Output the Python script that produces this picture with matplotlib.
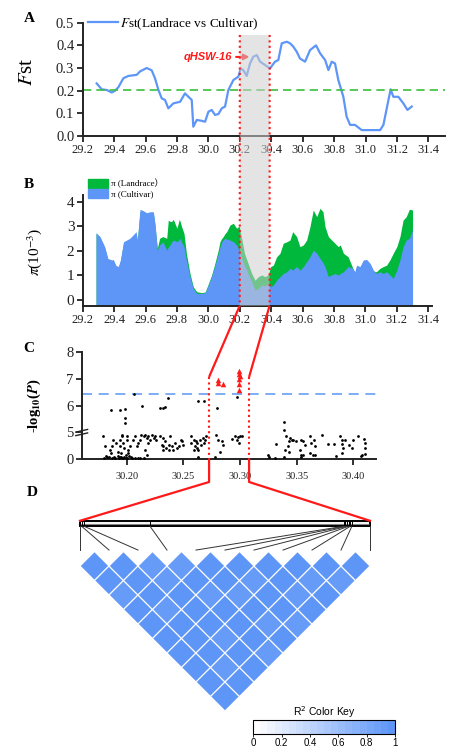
import numpy as np
import matplotlib
matplotlib.use("Agg")
import matplotlib.pyplot as plt
from matplotlib.patches import Polygon, Rectangle, Patch
from matplotlib.colors import LinearSegmentedColormap, Normalize
from matplotlib.cm import ScalarMappable

plt.rcParams['font.family'] = ['Liberation Serif', 'DejaVu Serif']
plt.rcParams['mathtext.fontset'] = 'stix'

# ---- A: Fst along the chromosome (Mb) ----
fst_pos = [29.289, 29.321, 29.353, 29.385, 29.406, 29.427, 29.459, 29.491, 29.544, 29.565,
           29.607, 29.639, 29.660, 29.682, 29.703, 29.724, 29.745, 29.777, 29.820, 29.851,
           29.873, 29.894, 29.904, 29.926, 29.957, 29.979, 30.000, 30.021, 30.042, 30.064,
           30.085, 30.106, 30.127, 30.159, 30.191, 30.206, 30.223, 30.244, 30.265, 30.286,
           30.308, 30.329, 30.361, 30.392, 30.424, 30.445, 30.467, 30.499, 30.520, 30.541,
           30.562, 30.583, 30.615, 30.647, 30.685, 30.711, 30.743, 30.764, 30.785, 30.806,
           30.827, 30.859, 30.880, 30.902, 30.933, 30.976, 31.029, 31.093, 31.114, 31.146,
           31.160, 31.177, 31.209, 31.241, 31.267, 31.294]
fst_val = [0.232, 0.206, 0.203, 0.192, 0.200, 0.215, 0.255, 0.265, 0.270, 0.285,
           0.300, 0.290, 0.255, 0.203, 0.166, 0.159, 0.122, 0.144, 0.151, 0.188,
           0.173, 0.159, 0.041, 0.071, 0.067, 0.063, 0.107, 0.115, 0.093, 0.097,
           0.122, 0.130, 0.203, 0.247, 0.262, 0.298, 0.290, 0.265, 0.320, 0.350,
           0.357, 0.328, 0.313, 0.298, 0.328, 0.335, 0.409, 0.416, 0.409, 0.394,
           0.372, 0.342, 0.328, 0.379, 0.400, 0.365, 0.335, 0.291, 0.328, 0.320,
           0.247, 0.173, 0.085, 0.049, 0.049, 0.026, 0.026, 0.026, 0.049, 0.159,
           0.206, 0.173, 0.173, 0.144, 0.115, 0.130]
fst_cut = 0.205
region = [30.20, 30.39]          # selected window (shaded)
xticks_ab = [29.2, 29.4, 29.6, 29.8, 30.0, 30.2, 30.4, 30.6, 30.8, 31.0, 31.2, 31.4]

# ---- B: nucleotide diversity (10^-3) ----
pi_pos = [29.285, 29.31, 29.34, 29.36, 29.385, 29.395, 29.41, 29.427, 29.44, 29.46,
          29.48, 29.50, 29.52, 29.54, 29.548, 29.565, 29.586, 29.607, 29.63, 29.65,
          29.66, 29.675, 29.69, 29.71, 29.735, 29.745, 29.756, 29.766, 29.777, 29.80,
          29.815, 29.82, 29.83, 29.845, 29.86, 29.883, 29.904, 29.926, 29.957, 29.98,
          30.0, 30.02, 30.04, 30.064, 30.074, 30.085, 30.095, 30.106, 30.117, 30.138,
          30.159, 30.18, 30.197, 30.21, 30.23, 30.244, 30.253, 30.276, 30.297, 30.318,
          30.34, 30.36, 30.38, 30.397, 30.414, 30.435, 30.456, 30.477, 30.50, 30.52,
          30.537, 30.562, 30.583, 30.605, 30.626, 30.647, 30.668, 30.69, 30.711, 30.73,
          30.743, 30.764, 30.785, 30.806, 30.827, 30.84, 30.86, 30.89, 30.92, 30.933,
          30.944, 30.965, 30.987, 31.008, 31.03, 31.05, 31.07, 31.093, 31.114, 31.135,
          31.156, 31.177, 31.20, 31.22, 31.24, 31.26, 31.28, 31.30]
pi_cultivar = [2.74, 2.58, 2.17, 1.69, 1.63, 1.65, 1.42, 1.36, 1.63, 2.37,
               2.44, 2.51, 2.64, 2.78, 2.44, 3.69, 3.63, 3.55, 3.59, 3.59,
               3.12, 2.03, 2.24, 2.37, 2.03, 2.15, 2.24, 2.35, 2.44, 2.37,
               2.45, 2.51, 2.35, 2.17, 1.63, 0.95, 0.47, 0.27, 0.27, 0.30,
               0.61, 0.95, 1.36, 1.90, 2.15, 2.37, 2.45, 2.51, 2.48, 2.44,
               2.37, 2.24, 2.00, 1.75, 1.40, 1.22, 1.05, 0.75, 0.41, 0.47,
               0.61, 0.57, 0.68, 0.54, 0.61, 0.81, 0.95, 1.08, 1.15, 1.29,
               1.22, 1.36, 1.22, 1.36, 1.56, 1.76, 2.03, 1.90, 1.69, 1.52,
               1.35, 0.95, 1.02, 1.08, 1.02, 1.08, 1.15, 1.36, 1.29, 1.15,
               1.42, 1.36, 1.63, 1.65, 1.49, 1.22, 1.08, 1.15, 1.08, 1.15,
               1.02, 0.88, 1.22, 1.63, 2.17, 2.44, 2.51, 2.85]
pi_landrace = [2.70, 2.55, 2.12, 1.65, 1.60, 1.60, 1.38, 1.32, 1.58, 2.32,
               2.40, 2.46, 2.60, 2.72, 2.40, 3.60, 3.55, 3.50, 3.52, 3.50,
               3.05, 2.10, 2.51, 2.58, 2.51, 3.25, 3.20, 3.19, 3.28, 2.92,
               3.28, 3.20, 2.98, 2.71, 1.90, 1.08, 0.54, 0.34, 0.30, 0.33,
               0.66, 1.00, 1.45, 2.05, 2.37, 2.50, 2.58, 2.70, 2.78, 3.05,
               3.12, 2.92, 3.01, 2.58, 1.90, 1.65, 1.49, 1.08, 0.81, 0.95,
               1.02, 0.95, 1.02, 1.36, 1.42, 1.76, 1.90, 2.31, 2.37, 2.44,
               2.78, 2.58, 2.17, 2.24, 2.44, 2.98, 3.66, 3.39, 3.73, 3.59,
               2.98, 2.58, 2.44, 2.31, 2.17, 2.24, 1.90, 1.76, 1.29, 1.10,
               1.38, 1.30, 1.58, 1.60, 1.45, 1.18, 1.15, 1.29, 1.36, 1.42,
               1.63, 1.90, 2.17, 2.58, 3.25, 3.39, 3.69, 3.66]

# ---- C: association scan, -log10(P) ----
snp_pos = [30.179, 30.181, 30.182, 30.183, 30.185, 30.186, 30.187, 30.187, 30.189, 30.188,
           30.191, 30.192, 30.193, 30.194, 30.194, 30.195, 30.196, 30.196, 30.197, 30.198,
           30.199, 30.199, 30.200, 30.200, 30.201, 30.201, 30.197, 30.196, 30.194, 30.203,
           30.204, 30.206, 30.207, 30.209, 30.210, 30.212, 30.213, 30.210, 30.207, 30.215,
           30.216, 30.218, 30.219, 30.221, 30.222, 30.224, 30.225, 30.216, 30.219, 30.215,
           30.218, 30.226, 30.229, 30.231, 30.232, 30.234, 30.235, 30.237, 30.238, 30.232,
           30.240, 30.241, 30.243, 30.232, 30.237, 30.244, 30.246, 30.248, 30.249, 30.250,
           30.257, 30.257, 30.259, 30.260, 30.261, 30.262, 30.263, 30.263, 30.265, 30.266,
           30.267, 30.268, 30.269, 30.270, 30.262, 30.259, 30.279, 30.281, 30.282, 30.284,
           30.285, 30.278, 30.293, 30.296, 30.298, 30.300, 30.302, 30.299, 30.297, 30.325,
           30.326, 30.331, 30.332, 30.340, 30.339, 30.341, 30.343, 30.344, 30.346, 30.347,
           30.349, 30.342, 30.343, 30.354, 30.356, 30.353, 30.354, 30.354, 30.356, 30.357,
           30.362, 30.363, 30.366, 30.365, 30.362, 30.364, 30.366, 30.372, 30.378, 30.383,
           30.388, 30.390, 30.390, 30.391, 30.393, 30.396, 30.399, 30.400, 30.404, 30.390,
           30.385, 30.409, 30.410, 30.410, 30.408, 30.410, 30.407,
           30.190, 30.192, 30.195, 30.198, 30.200, 30.202, 30.205, 30.180, 30.184, 30.212,
           30.2067, 30.2367, 30.2138, 30.1861, 30.1941, 30.1985, 30.1985, 30.1985, 30.2297, 30.2317,
           30.2335, 30.2632, 30.2685, 30.2794, 30.2971, 30.339, 30.339]
snp_logp = [4.25, 2.50, 0.69, 0.38, 1.75, 1.13, 2.50, 0.19, 0.50, 3.63,
            3.00, 1.44, 0.19, 3.63, 2.38, 1.13, 4.56, 4.25, 3.00, 2.06,
            0.81, 0.19, 4.25, 3.63, 1.75, 1.13, 0.19, 0.31, 0.50, 2.38,
            0.50, 3.63, 4.38, 2.38, 3.00, 3.63, 4.56, 0.19, 0.19, 4.25,
            4.56, 3.94, 4.25, 3.63, 4.56, 3.94, 4.25, 1.75, 3.00, 0.19,
            0.81, 3.63, 4.25, 2.69, 2.38, 3.31, 2.06, 2.69, 4.25, 3.94,
            2.38, 1.75, 3.00, 1.75, 1.75, 2.06, 2.38, 3.63, 3.31, 2.69,
            4.25, 3.00, 3.63, 2.38, 3.31, 2.06, 1.75, 0.50, 3.63, 2.69,
            3.94, 3.00, 3.63, 4.25, 3.00, 1.75, 4.56, 3.63, 1.44, 3.31,
            2.69, 0.38, 3.81, 4.25, 4.06, 4.38, 4.25, 3.00, 3.63, 0.81,
            0.50, 0.19, 2.88, 1.75, 0.50, 4.25, 3.31, 3.94, 3.63, 3.63,
            3.31, 2.38, 1.44, 3.63, 3.44, 1.75, 0.81, 0.38, 0.81, 2.69,
            4.25, 3.00, 2.38, 3.63, 1.13, 0.81, 0.81, 4.56, 2.88, 2.88,
            4.25, 3.63, 2.88, 2.06, 3.50, 2.69, 2.06, 3.63, 4.25, 1.13,
            0.63, 3.75, 3.00, 2.06, 0.81, 1.00, 0.63,
            0.31, 0.63, 0.44, 0.50, 0.31, 0.63, 0.25, 0.25, 0.44, 0.31,
            6.42, 6.27, 5.99, 5.84, 5.84, 5.86, 5.52, 5.34, 5.91, 5.92,
            5.93, 6.18, 6.18, 5.90, 6.30, 5.40, 5.09]
sig_pos = [30.281, 30.281, 30.2847, 30.299, 30.299, 30.300, 30.299, 30.299, 30.299]
sig_logp = [6.93, 6.85, 6.80, 7.27, 7.18, 7.08, 6.98, 6.80, 6.58]
logp_cut = 6.42
c_window = [30.2727, 30.308]
xticks_c = [30.20, 30.25, 30.30, 30.35, 30.40]

# ---- D: LD block of 11 SNPs ----
ld_pos = [30.2728, 30.2730, 30.2733, 30.2813, 30.3048, 30.3050,
          30.3052, 30.3054, 30.3056, 30.3058, 30.3080]
ld_r2 = [[0.98, 0.97, 0.93, 0.96, 0.95, 0.97, 0.96, 0.98, 0.95, 0.97],
         [0.97, 0.95, 0.98, 0.92, 0.96, 0.95, 0.97, 0.94, 0.96],
         [0.90, 0.93, 0.97, 0.95, 0.96, 0.93, 0.97, 0.95],
         [0.94, 0.96, 0.92, 0.97, 0.95, 0.96, 0.93],
         [0.97, 0.95, 0.94, 0.96, 0.92, 0.95],
         [0.96, 0.93, 0.97, 0.95, 0.94],
         [0.95, 0.97, 0.92, 0.96],
         [0.96, 0.94, 0.97],
         [0.95, 0.93],
         [0.96]]
key_ticks = [0, 0.2, 0.4, 0.6, 0.8, 1]

blue = '#5e96f8'
green = '#00b83c'
red = '#ff1a1a'

W, H = 456, 754
fig = plt.figure(figsize=(W / 100, H / 100), dpi=100)


def box(x0, y0, x1, y1):
    # axes placed by pixel box, origin at the top left of the figure
    return fig.add_axes([x0 / W, 1 - y1 / H, (x1 - x0) / W, (y1 - y0) / H])


def style(ax):
    for s in ['top', 'right']:
        ax.spines[s].set_visible(False)
    for s in ['left', 'bottom']:
        ax.spines[s].set_linewidth(1.4)
        ax.spines[s].set_color('#222222')
    ax.tick_params(direction='out', length=4, width=1.3, pad=2, colors='#222222')


def tf(v):
    # broken y axis: 0-5 squeezed into one unit, then 1 unit per step
    v = np.asarray(v, dtype=float)
    return np.where(v <= 5, v / 5, v - 4)


# A
axA = box(82.7, 22.7, 445, 136)
style(axA)
axA.plot(fst_pos, fst_val, color=blue, lw=1.6, label=r'$F$st(Landrace vs Cultivar)')
axA.axhline(fst_cut, color='#3cbf3c', lw=1.2, dashes=(5, 3))
axA.set_xlim(29.2, 31.506)
axA.set_ylim(0, 0.5)
axA.set_xticks(xticks_ab)
axA.set_xticklabels([f'{v:.1f}' for v in xticks_ab], fontsize=9)
axA.set_yticks([0, 0.1, 0.2, 0.3, 0.4, 0.5])
axA.set_yticklabels(['0.0', '0.1', '0.2', '0.3', '0.4', '0.5'], fontsize=10.5)
axA.set_ylabel(r'$F$st', fontsize=15)
axA.yaxis.set_label_coords(-0.125, 0.57)
axA.legend(loc='center left', bbox_to_anchor=(0.0146, 0.988), frameon=False, fontsize=9.5,
           handlelength=2.3, handletextpad=0.1, borderpad=0, borderaxespad=0)
axA.annotate('qHSW-16', xy=(30.262, 0.349), xytext=(30.15, 0.349), ha='right', va='center',
             color=red, fontsize=8, fontstyle='italic', fontweight='bold',
             family=['Liberation Sans', 'DejaVu Sans'],
             arrowprops=dict(arrowstyle='-|>', color=red, lw=1.5, mutation_scale=8,
                             shrinkA=1, shrinkB=0))

# B
ymin_b = -0.23
axB = box(82.7, 195, 432, 305.7)
style(axB)
axB.fill_between(pi_pos, ymin_b, pi_landrace, color=green, lw=0)
axB.fill_between(pi_pos, ymin_b, pi_cultivar, color=blue, lw=0)
axB.set_xlim(29.2, 31.424)
axB.set_ylim(ymin_b, 4.27)
axB.set_xticks(xticks_ab)
axB.set_xticklabels([f'{v:.1f}' for v in xticks_ab], fontsize=9)
axB.set_yticks([0, 1, 2, 3, 4])
axB.set_yticklabels(['0', '1', '2', '3', '4'], fontsize=11)
axB.set_ylabel(r'$\pi$(10$^{-3}$)', fontsize=11)
axB.yaxis.set_label_coords(-0.11, 0.49)
handles = [Patch(color=green, label='π (Landrace）'), Patch(color=blue, label='π (Cultivar)')]
leg = axB.legend(handles=handles, loc='upper left', bbox_to_anchor=(0.0152, 1.145),
                 frameon=False, fontsize=6.5, handlelength=2.2, handleheight=1.05,
                 handletextpad=0.4, labelspacing=0.1, borderpad=0, borderaxespad=0)
for t in leg.get_texts():
    t.set_fontfamily(['Liberation Serif', 'Noto Sans CJK SC'])

# C
axC = box(81.7, 351.7, 376, 459.3)
style(axC)
axC.scatter(snp_pos, tf(snp_logp), s=4, color='black', lw=0, zorder=3)
axC.scatter(sig_pos, tf(sig_logp), s=16, marker='^', color=red, lw=0, zorder=3)
axC.axhline(float(tf(logp_cut)), color='#6a9ef5', lw=1.2, dashes=(6, 4))
axC.set_xlim(30.1603, 30.42)
axC.set_ylim(0, 4)
axC.set_xticks(xticks_c)
axC.set_xticklabels([f'{v:.2f}' for v in xticks_c], fontsize=7.5)
axC.tick_params(axis='x', pad=5)
axC.set_yticks([0, 1, 2, 3, 4])
axC.set_yticklabels(['0', '5', '6', '7', '8'], fontsize=10.5)
axC.set_ylabel(r'-log$_{\mathbf{10}}$($\mathbfit{P}$)', fontsize=10.5, fontweight='bold')
axC.yaxis.set_label_coords(-0.13, 0.5)
ytr = axC.get_yaxis_transform()
for dy in (-0.07, 0.06):
    axC.plot([-0.02, 0.02], [1 + dy - 0.05, 1 + dy + 0.05], transform=ytr, color='#222222',
             lw=1.0, clip_on=False)

# D: LD heatmap
ld_cmap = LinearSegmentedColormap.from_list('r2', ['white', blue], N=20)
norm = Normalize(0, 1)
axD = box(80, 515, 370, 712)
axD.set_xlim(0, 10)
axD.set_ylim(-5.534, 1.259)
axD.axis('off')
n = len(ld_pos)
for i in range(n - 1):
    for j in range(i + 1, n):
        cx, cy = (i + j) / 2, -(j - i) / 2
        val = ld_r2[i][j - i - 1]
        axD.add_patch(Polygon([(cx, cy + 0.5), (cx + 0.5, cy), (cx, cy - 0.5), (cx - 0.5, cy)],
                              closed=True, facecolor=ld_cmap(norm(val)), edgecolor='white',
                              lw=0.8, clip_on=False))
span = ld_pos[-1] - ld_pos[0]
bar_lo, bar_hi = 0.87, 1.06
axD.add_patch(Rectangle((0, bar_lo), 10, bar_hi - bar_lo, facecolor='#f4f4f4',
                        edgecolor='black', lw=1.4, clip_on=False))
axD.plot([0, 10], [(bar_lo + bar_hi) / 2] * 2, color='#555555', lw=0.5, clip_on=False)
for k, p in enumerate(ld_pos):
    xb = (p - ld_pos[0]) / span * 10
    axD.plot([xb, xb], [bar_lo, bar_hi], color='black', lw=0.7, clip_on=False)
    axD.plot([xb, k], [bar_lo, 0.05], color='#333333', lw=0.7, clip_on=False)

cax = box(253.3, 720, 395, 734)
cb = fig.colorbar(ScalarMappable(norm=norm, cmap=ld_cmap), cax=cax, orientation='horizontal',
                  ticks=key_ticks)
cb.outline.set_linewidth(0.8)
cax.set_xticklabels(['0', '0.2', '0.4', '0.6', '0.8', '1'], fontsize=7,
                    family=['Liberation Sans', 'DejaVu Sans'])
cax.tick_params(length=2, width=0.6, pad=1)
cax.set_title('R$^2$ Color Key', fontsize=7.5, pad=2, family=['Liberation Sans', 'DejaVu Sans'],
              math_fontfamily='dejavusans')

# overlay with connecting marks, in figure pixels
ov = fig.add_axes([0, 0, 1, 1])
ov.set_xlim(0, W)
ov.set_ylim(H, 0)
ov.axis('off')
ov.set_zorder(10)
inv = ov.transData.inverted()


def px(ax, x, y):
    return inv.transform(ax.transData.transform((x, y)))


a_top = 0.446
corners = [px(axA, region[0], a_top), px(axA, region[1], a_top),
           px(axB, region[1], ymin_b), px(axB, region[0], ymin_b)]
ov.add_patch(Polygon(corners, closed=True, facecolor='#cfcfcf', alpha=0.55, lw=0))
for r in region:
    p0, p1 = px(axA, r, a_top), px(axB, r, ymin_b)
    ov.plot([p0[0], p1[0]], [p0[1], p1[1]], color=red, lw=1.5, ls=(0, (1, 1.6)))

c_top = float(tf(7.06))
elbow_y = 482
for r, cw, dx in zip(region, c_window, [0, 10]):
    b = px(axB, r, ymin_b)
    c0 = px(axC, cw, c_top)
    c1 = px(axC, cw, 0)
    d = px(axD, dx, bar_hi)
    ov.plot([b[0], c0[0]], [b[1], c0[1]], color=red, lw=1.6, solid_capstyle='butt')
    ov.plot([c0[0], c1[0]], [c0[1], c1[1]], color=red, lw=1.5, ls=(0, (1, 1.6)))
    ov.plot([c1[0], c1[0], d[0]], [c1[1], elbow_y, d[1]], color=red, lw=1.6)

for lab, (x, y) in zip('ABCD', [(29, 18), (29, 184), (29, 348), (32, 493)]):
    fig.text(x / W, 1 - y / H, lab, ha='center', va='center', fontsize=11, fontweight='bold')

fig.savefig('out.png', dpi=100)
